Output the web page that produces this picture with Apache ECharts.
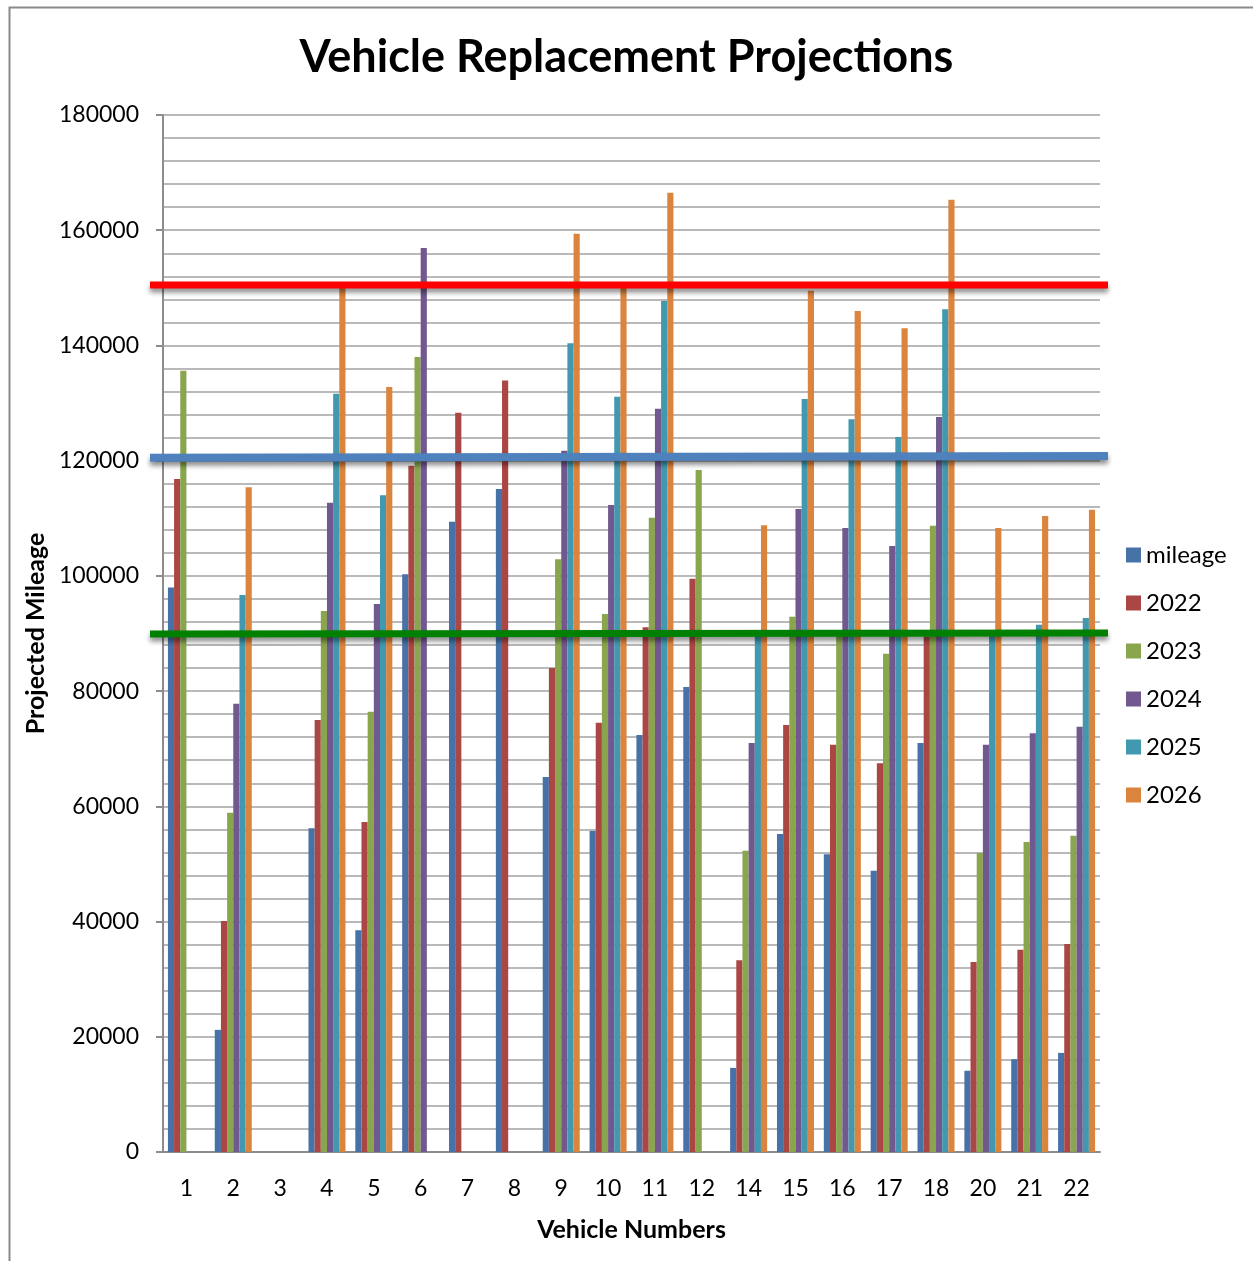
<!DOCTYPE html>
<html>
<head>
<meta charset="utf-8">
<title>Vehicle Replacement Projections</title>
<script src="https://cdn.jsdelivr.net/npm/echarts@6/dist/echarts.min.js"></script>
<style>
  html, body { margin: 0; padding: 0; background: #ffffff; }
  #chart { width: 1253px; height: 1261px; }
</style>
</head>
<body>
<div id="chart"></div>
<script>
// Vehicle numbers on the category axis
const vehicles = ['1', '2', '3', '4', '5', '6', '7', '8', '9', '10', '11', '12', '14', '15', '16', '17', '18', '20', '21', '22'];

// Current mileage and projected mileage per year
const mileage = [98000, 21200, 0, 56200, 38500, 100300, 109400, 115100, 65100, 55700, 72400, 80700, 14600, 55200, 51700, 48800, 71000, 14100, 16100, 17200];
const y2022 = [116800, 40100, 0, 75000, 57300, 119100, 128300, 133900, 84000, 74500, 91100, 99500, 33300, 74100, 70700, 67500, 89500, 33000, 35100, 36100];
const y2023 = [135600, 58900, 0, 93900, 76400, 138000, 0, 0, 102900, 93400, 110100, 118400, 52300, 92900, 89800, 86500, 108700, 51900, 53800, 54900];
const y2024 = [0, 77800, 0, 112700, 95100, 156900, 0, 0, 121700, 112300, 129000, 0, 71000, 111600, 108300, 105200, 127600, 70700, 72700, 73800];
const y2025 = [0, 96700, 0, 131600, 114000, 0, 0, 0, 140400, 131100, 147700, 0, 89800, 130700, 127200, 124100, 146300, 89900, 91500, 92700];
const y2026 = [0, 115400, 0, 150100, 132800, 0, 0, 0, 159400, 150100, 166500, 0, 108800, 149500, 146000, 143000, 165300, 108300, 110400, 111500];

const seriesNames = ['mileage', '2022', '2023', '2024', '2025', '2026'];
const seriesValues = [mileage, y2022, y2023, y2024, y2025, y2026];
const seriesColors = ['#4672A8', '#AA4644', '#89A54E', '#71588F', '#4198AF', '#DB843D'];

// Y-axis tick values
const yTicks = [0, 20000, 40000, 60000, 80000, 100000, 120000, 140000, 160000, 180000];

// Threshold lines, given as [start, end] mileage across the chart
const redLimit = [150500, 150500];
const blueLimit = [120500, 120800];
const greenLimit = [89900, 90100];

const font = 'Lato, "Open Sans", sans-serif';

const barSeries = seriesNames.map((name, i) => ({
  name: name,
  type: 'bar',
  xAxisIndex: 0,
  yAxisIndex: 0,
  data: seriesValues[i],
  barGap: '0%',
  barCategoryGap: '21%',
  itemStyle: { color: seriesColors[i] },
  emphasis: { disabled: true }
}));

function limitLine(vals, color, width) {
  return {
    type: 'line',
    xAxisIndex: 1,
    yAxisIndex: 1,
    data: [[0, vals[0]], [1, vals[1]]],
    symbol: 'none',
    silent: true,
    z: 10,
    lineStyle: {
      color: color,
      width: width,
      shadowColor: 'rgba(0,0,0,0.45)',
      shadowBlur: 5,
      shadowOffsetY: 4
    }
  };
}

const chart = echarts.init(document.getElementById('chart'), null, { renderer: 'canvas' });

chart.setOption({
  animation: false,
  backgroundColor: '#ffffff',
  title: {
    text: 'Vehicle Replacement Projections',
    left: 'center',
    top: 30,
    textStyle: { fontFamily: font, fontSize: 45, fontWeight: 'bold', color: '#000000' }
  },
  legend: {
    orient: 'vertical',
    left: 1121,
    top: 538,
    itemWidth: 15,
    itemHeight: 15,
    itemGap: 24,
    icon: 'rect',
    data: seriesNames,
    textStyle: { fontFamily: font, fontSize: 24, color: '#000000', padding: [0, 0, 0, 0] }
  },
  graphic: [{
    type: 'rect',
    left: 7,
    top: 5,
    shape: { width: 1400, height: 1400 },
    style: { fill: 'none', stroke: '#8a8a8a', lineWidth: 2 },
    silent: true
  }],
  grid: [
    { left: 163, right: 153, top: 115, bottom: 109 },
    { left: 150, right: 145, top: 115, bottom: 109 }
  ],
  xAxis: [{
    type: 'category',
    gridIndex: 0,
    data: vehicles,
    name: 'Vehicle Numbers',
    nameLocation: 'middle',
    nameGap: 65,
    nameTextStyle: { fontFamily: font, fontSize: 25, fontWeight: 'bold', color: '#000000' },
    axisLine: { lineStyle: { color: '#8c8c8c', width: 2 } },
    axisTick: { show: false },
    axisLabel: { fontFamily: font, fontSize: 23, color: '#000000', margin: 25 },
    splitLine: { show: false }
  }, {
    type: 'value',
    gridIndex: 1,
    min: 0,
    max: 1,
    show: false
  }],
  yAxis: [{
    type: 'value',
    gridIndex: 0,
    min: yTicks[0],
    max: yTicks[yTicks.length - 1],
    interval: yTicks[1] - yTicks[0],
    name: 'Projected Mileage',
    nameLocation: 'middle',
    nameRotate: 90,
    nameGap: 115,
    nameTextStyle: { fontFamily: font, fontSize: 25, fontWeight: 'bold', color: '#000000' },
    axisLine: { show: true, lineStyle: { color: '#8c8c8c', width: 2 } },
    axisTick: { show: true, length: 7, lineStyle: { color: '#8c8c8c', width: 2 } },
    axisLabel: { fontFamily: font, fontSize: 23, color: '#000000', margin: 24, formatter: v => String(v) },
    splitLine: { show: true, lineStyle: { color: '#b9b9b9', width: 2 } },
    minorTick: { show: false, splitNumber: 5 },
    minorSplitLine: { show: true, lineStyle: { color: '#b9b9b9', width: 2 } }
  }, {
    type: 'value',
    gridIndex: 1,
    min: yTicks[0],
    max: yTicks[yTicks.length - 1],
    show: false
  }],
  series: barSeries.concat([
    limitLine(redLimit, '#ff0000', 7),
    limitLine(blueLimit, '#4F81BD', 8),
    limitLine(greenLimit, '#008000', 7)
  ])
});
</script>
</body>
</html>
